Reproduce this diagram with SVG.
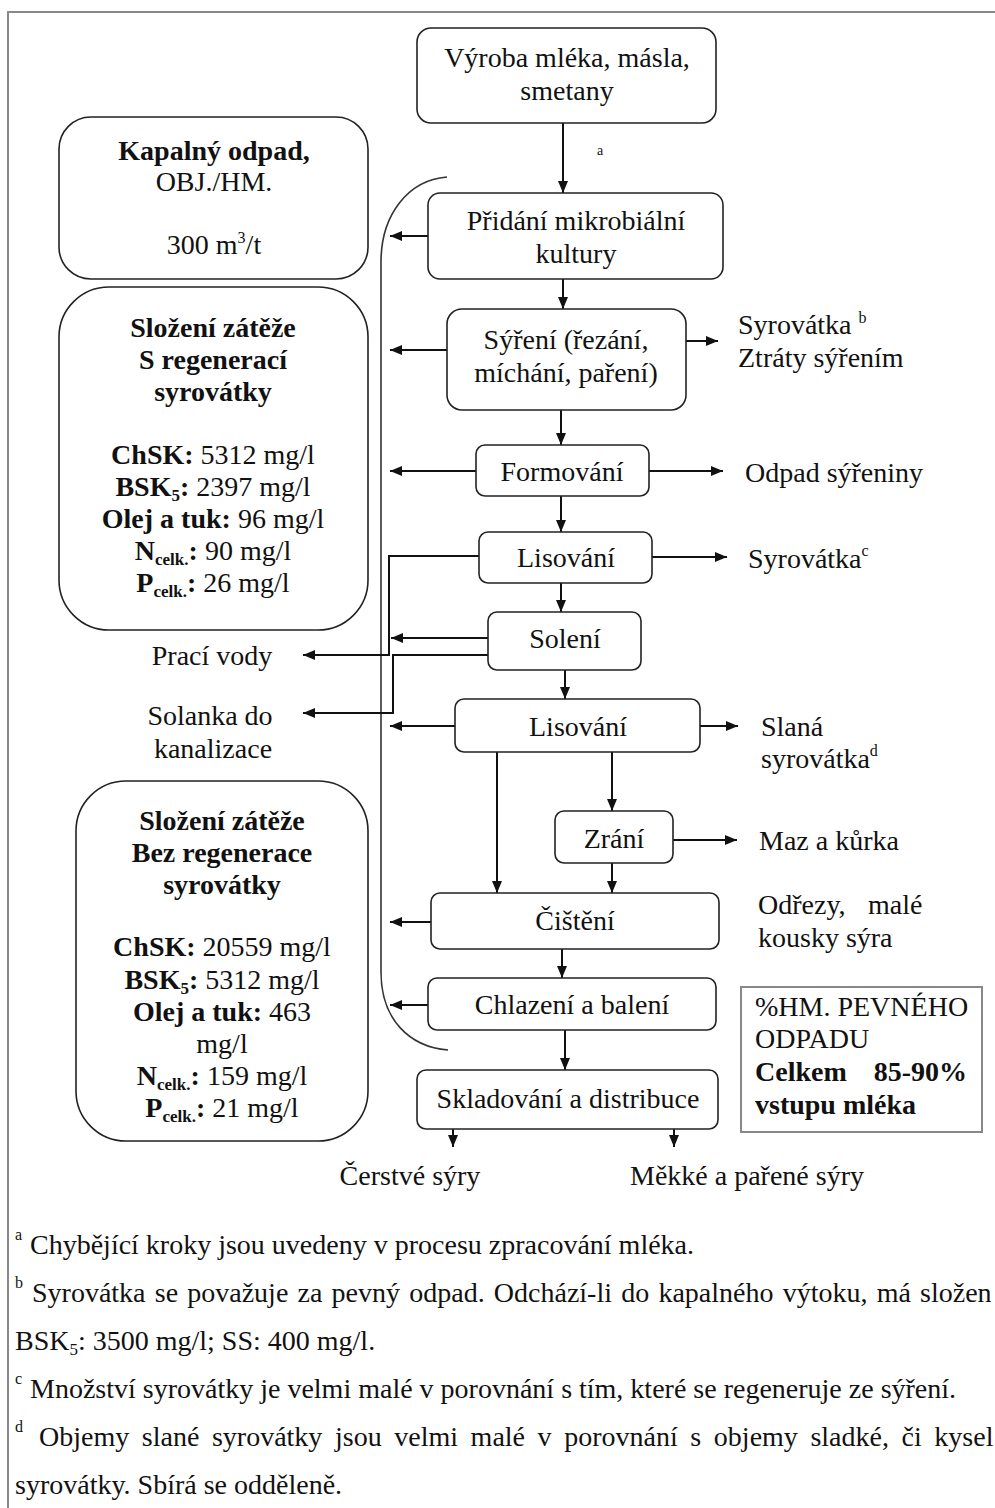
<svg xmlns="http://www.w3.org/2000/svg" width="995" height="1508" viewBox="0 0 995 1508">
  <style>
    .t { font-family: "Liberation Serif", "Times New Roman", serif; font-size: 28px; fill: #111; }
    .c { text-anchor: middle; }
    .b { font-weight: bold; }
    .sup { font-size: 16px; }
    .sub { font-size: 17px; }
    .box { fill: #fff; stroke: #222; stroke-width: 1.6; }
    .ln { fill: none; stroke: #111; stroke-width: 2; }
    .arr { fill: none; stroke: #111; stroke-width: 2; marker-end: url(#ah); }
    .brk { fill: none; stroke: #333; stroke-width: 1.6; }
    .frame { fill: none; stroke: #888; stroke-width: 2; }
  </style>
  <defs>
    <marker id="ah" viewBox="0 0 12 10" markerWidth="12" markerHeight="10" refX="12" refY="5" orient="auto" markerUnits="userSpaceOnUse">
      <path d="M0,0 L12,5 L0,10 z" fill="#111"/>
    </marker>
  </defs>

  <rect width="995" height="1508" fill="#fff"/>
  <path class="frame" d="M8,1508 V12 H995"/>

  <!-- bracket collecting the liquid streams -->
  <path class="brk" d="M447,177 C408,180 381,215 381,262 L381,972 C381,1020 410,1047 448,1050"/>

  <!-- connectors -->
  <g id="connectors">
    <line class="arr" x1="563" y1="123" x2="563" y2="193"/>
    <text class="t" x="597" y="155" style="font-size:14px">a</text>
    <line class="arr" x1="563" y1="279" x2="563" y2="309"/>
    <line class="arr" x1="561" y1="410" x2="561" y2="445"/>
    <line class="arr" x1="561" y1="496" x2="561" y2="532"/>
    <line class="arr" x1="561" y1="583" x2="561" y2="612"/>
    <line class="arr" x1="565" y1="670" x2="565" y2="699"/>
    <line class="arr" x1="612" y1="752" x2="612" y2="811"/>
    <line class="arr" x1="497" y1="752" x2="497" y2="893"/>
    <line class="arr" x1="612" y1="863" x2="612" y2="893"/>
    <line class="arr" x1="562" y1="949" x2="562" y2="978"/>
    <line class="arr" x1="565" y1="1030" x2="565" y2="1070"/>
    <line class="arr" x1="453" y1="1129" x2="453" y2="1147"/>
    <line class="arr" x1="674" y1="1129" x2="674" y2="1147"/>

    <!-- streams to the left -->
    <line class="arr" x1="428" y1="236" x2="390" y2="236"/>
    <line class="arr" x1="447" y1="350" x2="390" y2="350"/>
    <line class="arr" x1="476" y1="471" x2="390" y2="471"/>
    <polyline class="arr" points="479,556 389,556 389,655 303,655"/>
    <line class="arr" x1="488" y1="638" x2="391" y2="638"/>
    <polyline class="arr" points="488,655 393,655 393,713 303,713"/>
    <line class="arr" x1="455" y1="726" x2="390" y2="726"/>
    <line class="arr" x1="431" y1="922" x2="390" y2="922"/>
    <line class="arr" x1="428" y1="1005" x2="390" y2="1005"/>

    <!-- streams to the right -->
    <line class="arr" x1="686" y1="341" x2="718" y2="341"/>
    <line class="arr" x1="649" y1="471" x2="723" y2="471"/>
    <line class="arr" x1="652" y1="557" x2="727" y2="557"/>
    <line class="arr" x1="700" y1="726" x2="738" y2="726"/>
    <line class="arr" x1="673" y1="840" x2="737" y2="840"/>
  </g>

  <!-- process steps -->
  <g id="vyroba">
    <rect class="box" x="417" y="28" width="299" height="95" rx="14"/>
    <text class="t c" x="567" y="67">Výroba mléka, másla,</text>
    <text class="t c" x="567" y="100">smetany</text>
  </g>
  <g id="pridani">
    <rect class="box" x="428" y="193" width="295" height="86" rx="12"/>
    <text class="t c" x="576" y="230">Přidání mikrobiální</text>
    <text class="t c" x="576" y="263">kultury</text>
  </g>
  <g id="syreni">
    <rect class="box" x="447" y="309" width="239" height="101" rx="15"/>
    <text class="t c" x="566" y="349">Sýření (řezání,</text>
    <text class="t c" x="566" y="382">míchání, paření)</text>
  </g>
  <g id="formovani">
    <rect class="box" x="476" y="445" width="173" height="51" rx="9"/>
    <text class="t c" x="562" y="481">Formování</text>
  </g>
  <g id="lisovani1">
    <rect class="box" x="479" y="532" width="173" height="51" rx="9"/>
    <text class="t c" x="566" y="567">Lisování</text>
  </g>
  <g id="soleni">
    <rect class="box" x="488" y="612" width="153" height="58" rx="9"/>
    <text class="t c" x="565" y="648">Solení</text>
  </g>
  <g id="lisovani2">
    <rect class="box" x="455" y="699" width="245" height="53" rx="9"/>
    <text class="t c" x="578" y="736">Lisování</text>
  </g>
  <g id="zrani">
    <rect class="box" x="555" y="811" width="118" height="52" rx="9"/>
    <text class="t c" x="614" y="848">Zrání</text>
  </g>
  <g id="cisteni">
    <rect class="box" x="431" y="893" width="288" height="56" rx="9"/>
    <text class="t c" x="575" y="930">Čištění</text>
  </g>
  <g id="chlazeni">
    <rect class="box" x="428" y="978" width="288" height="52" rx="9"/>
    <text class="t c" x="572" y="1014">Chlazení a balení</text>
  </g>
  <g id="skladovani">
    <rect class="box" x="417" y="1070" width="301" height="59" rx="9"/>
    <text class="t c" x="568" y="1108">Skladování a distribuce</text>
  </g>

  <!-- outputs on the right -->
  <g id="out-syrovatka-b">
    <text class="t" x="738" y="334">Syrovátka <tspan class="sup" dy="-11">b</tspan></text>
    <text class="t" x="738" y="367">Ztráty sýřením</text>
  </g>
  <g id="out-odpad">
    <text class="t" x="745" y="482">Odpad sýřeniny</text>
  </g>
  <g id="out-syrovatka-c">
    <text class="t" x="748" y="568">Syrovátka<tspan class="sup" dy="-12">c</tspan></text>
  </g>
  <g id="out-slana">
    <text class="t" x="761" y="736">Slaná</text>
    <text class="t" x="761" y="768">syrovátka<tspan class="sup" dy="-12">d</tspan></text>
  </g>
  <g id="out-maz">
    <text class="t" x="759" y="850">Maz a kůrka</text>
  </g>
  <g id="out-odrezy">
    <text class="t" x="758" y="914">Odřezy,</text>
    <text class="t" x="868" y="914">malé</text>
    <text class="t" x="758" y="947">kousky sýra</text>
  </g>
  <g id="solid-waste">
    <rect x="741" y="987" width="241" height="145" fill="#fff" stroke="#888" stroke-width="2"/>
    <text class="t" x="755" y="1016">%HM. PEVNÉHO</text>
    <text class="t" x="755" y="1048">ODPADU</text>
    <text class="t b" x="755" y="1081">Celkem</text>
    <text class="t b" x="967" y="1081" text-anchor="end">85-90%</text>
    <text class="t b" x="755" y="1114">vstupu mléka</text>
  </g>

  <!-- products -->
  <g id="out-cerstve">
    <text class="t c" x="410" y="1185">Čerstvé sýry</text>
  </g>
  <g id="out-mekke">
    <text class="t c" x="747" y="1185">Měkké a pařené sýry</text>
  </g>

  <!-- liquid waste side -->
  <g id="kapalny">
    <rect class="box" x="59" y="117" width="309" height="162" rx="32"/>
    <text class="t c b" x="214" y="160">Kapalný odpad,</text>
    <text class="t c" x="214" y="191">OBJ./HM.</text>
    <text class="t c" x="214" y="254">300 m<tspan class="sup" dy="-11">3</tspan><tspan dy="11">/t</tspan></text>
  </g>
  <g id="s-regeneraci">
    <rect class="box" x="59" y="287" width="309" height="343" rx="50"/>
    <text class="t c b" x="213" y="337">Složení zátěže</text>
    <text class="t c b" x="213" y="369">S regenerací</text>
    <text class="t c b" x="213" y="401">syrovátky</text>
    <text class="t c" x="213" y="464"><tspan class="b">ChSK:</tspan> 5312 mg/l</text>
    <text class="t c" x="213" y="496"><tspan class="b">BSK<tspan class="sub" dy="5">5</tspan><tspan dy="-5">:</tspan></tspan> 2397 mg/l</text>
    <text class="t c" x="213" y="528"><tspan class="b">Olej a tuk:</tspan> 96 mg/l</text>
    <text class="t c" x="213" y="560"><tspan class="b">N<tspan class="sub" dy="5">celk.</tspan><tspan dy="-5">:</tspan></tspan> 90 mg/l</text>
    <text class="t c" x="213" y="592"><tspan class="b">P<tspan class="sub" dy="5">celk.</tspan><tspan dy="-5">:</tspan></tspan> 26 mg/l</text>
  </g>
  <g id="praci-vody">
    <text class="t c" x="212" y="665">Prací vody</text>
  </g>
  <g id="solanka">
    <text class="t c" x="210" y="725">Solanka do</text>
    <text class="t c" x="213" y="758">kanalizace</text>
  </g>
  <g id="bez-regenerace">
    <rect class="box" x="76" y="781" width="292" height="360" rx="50"/>
    <text class="t c b" x="222" y="830">Složení zátěže</text>
    <text class="t c b" x="222" y="862">Bez regenerace</text>
    <text class="t c b" x="222" y="894">syrovátky</text>
    <text class="t c" x="222" y="956"><tspan class="b">ChSK:</tspan> 20559 mg/l</text>
    <text class="t c" x="222" y="989"><tspan class="b">BSK<tspan class="sub" dy="5">5</tspan><tspan dy="-5">:</tspan></tspan> 5312 mg/l</text>
    <text class="t c" x="222" y="1021"><tspan class="b">Olej a tuk:</tspan> 463</text>
    <text class="t c" x="222" y="1053">mg/l</text>
    <text class="t c" x="222" y="1085"><tspan class="b">N<tspan class="sub" dy="5">celk.</tspan><tspan dy="-5">:</tspan></tspan> 159 mg/l</text>
    <text class="t c" x="222" y="1117"><tspan class="b">P<tspan class="sub" dy="5">celk.</tspan><tspan dy="-5">:</tspan></tspan> 21 mg/l</text>
  </g>

  <!-- footnotes -->
  <g id="footnotes">
    <text class="t sup" x="15" y="1240">a</text>
    <text class="t" x="30" y="1254">Chybějící kroky jsou uvedeny v procesu zpracování mléka.</text>
    <text class="t sup" x="15" y="1288">b</text>
    <text class="t" x="32" y="1302" style="word-spacing:2.2px">Syrovátka se považuje za pevný odpad. Odchází-li do kapalného výtoku, má složen</text>
    <text class="t" x="15" y="1350">BSK<tspan class="sub" dy="5">5</tspan><tspan dy="-5">: 3500 mg/l; SS: 400 mg/l.</tspan></text>
    <text class="t sup" x="15" y="1384">c</text>
    <text class="t" x="30" y="1398">Množství syrovátky je velmi malé v porovnání s tím, které se regeneruje ze sýření.</text>
    <text class="t sup" x="15" y="1432">d</text>
    <text class="t" x="39" y="1446" style="word-spacing:5.6px">Objemy slané syrovátky jsou velmi malé v porovnání s objemy sladké, či kysel</text>
    <text class="t" x="15" y="1494">syrovátky. Sbírá se odděleně.</text>
  </g>
</svg>
